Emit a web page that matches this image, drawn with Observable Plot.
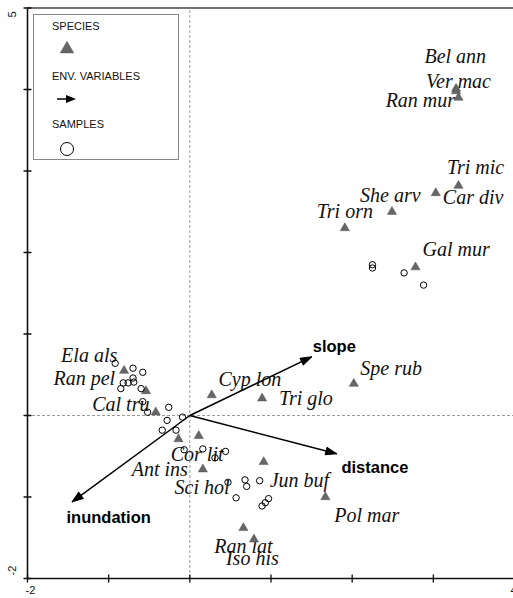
<!DOCTYPE html>
<html>
<head>
<meta charset="utf-8">
<script src="https://cdn.jsdelivr.net/npm/d3@7"></script>
<script src="https://cdn.jsdelivr.net/npm/@observablehq/plot@0.6"></script>
<style>
  html, body { margin: 0; padding: 0; background: #fff; overflow: hidden; }
  #chart svg { display: block; }
</style>
</head>
<body>
<div id="chart"></div>
<script>
// ---- Data ----
const species = ["Bel ann","Ver mac","Ran mur","Tri mic","Car div","She arv","Tri orn","Gal mur",
  "Spe rub","Tri glo","Cyp lon","Ela als","Ran pel","Cal tru","Ant ins","Cor lit","Sci hol",
  "Jun buf","Pol mar","Ran lat","Iso his"];
const speciesX = [3.28, 3.28, 3.31, 3.31, 3.03, 2.49, 1.91, 2.78, 2.02, 0.89, 0.27, -0.81, -0.54, -0.42, -0.14, 0.11, 0.16, 0.91, 1.67, 0.66, 0.79];
const speciesY = [4.01, 3.98, 3.90, 2.82, 2.73, 2.50, 2.30, 1.82, 0.39, 0.21, 0.25, 0.55, 0.30, 0.04, -0.29, -0.25, -0.66, -0.57, -1.00, -1.38, -1.52];
const speciesLabelX = [3.27, 3.31, 2.84, 3.52, 3.49, 2.47, 1.91, 3.28, 2.48, 1.43, 0.74, -1.24, -1.30, -0.85, -0.37, 0.09, 0.15, 1.35, 2.18, 0.66, 0.77];
const speciesLabelY = [4.40, 4.10, 3.86, 3.04, 2.67, 2.70, 2.50, 2.03, 0.57, 0.21, 0.44, 0.74, 0.45, 0.13, -0.66, -0.48, -0.88, -0.80, -1.23, -1.61, -1.75];

const sampleX = [-0.92, -0.70, -0.58, -0.70, -0.82, -0.76, -0.69, -0.85, -0.60, -0.58, -0.52, -0.26, -0.28, -0.09, -0.34, -0.17,
  -0.07, 0.16, 0.31, 0.44, 0.47, 0.68, 0.70, 0.86, 0.57, 0.97, 0.93, 0.89,
  2.25, 2.25, 2.64, 2.88];
const sampleY = [0.64, 0.58, 0.53, 0.46, 0.40, 0.40, 0.41, 0.33, 0.33, 0.17, 0.04, 0.10, -0.06, -0.02, -0.18, -0.18,
  -0.42, -0.41, -0.52, -0.44, -0.82, -0.79, -0.87, -0.80, -1.01, -1.02, -1.07, -1.11,
  1.85, 1.81, 1.75, 1.60];

const envNames = ["slope", "distance", "inundation"];
const envX = [1.50, 1.81, -1.45];
const envY = [0.72, -0.47, -1.06];
const envLabelX = [1.78, 2.28, -1.00];
const envLabelY = [0.85, -0.64, -1.26];

const xTicks = [-2, -1, 0, 1, 2, 3, 4];
const yTicks = [-2, -1, 0, 1, 2, 3, 4, 5];
const xDomain = [-2, 4];
const yDomain = [-2, 5];

const legendLabels = ["SPECIES", "ENV. VARIABLES", "SAMPLES"];

// ---- Build tables ----
const speciesData = species.map((name, i) => ({name, x: speciesX[i], y: speciesY[i], lx: speciesLabelX[i], ly: speciesLabelY[i]}));
const sampleData = sampleX.map((x, i) => ({x, y: sampleY[i]}));
const envData = envNames.map((name, i) => ({name, x: envX[i], y: envY[i], lx: envLabelX[i], ly: envLabelY[i]}));

const W = 513, H = 598;
const xRange = [27, 514], yRange = [578, 7.5];
const sx = (xRange[1] - xRange[0]) / (xDomain[1] - xDomain[0]);
const sy = (yRange[0] - yRange[1]) / (yDomain[1] - yDomain[0]);
const angleOf = d => Math.atan2(d.x * sx, d.y * sy) * 180 / Math.PI;

const tickShape = {draw(c, l) { c.moveTo(0, 0); c.lineTo(0, -l); }};
const headShape = {draw(c, l) { c.moveTo(0, -l); c.lineTo(-3.8, 0); c.lineTo(3.8, 0); c.closePath(); }};

const serif = "'Liberation Serif', 'Times New Roman', serif";
const sans = "'Liberation Sans', Arial, sans-serif";

const plot = Plot.plot({
  width: W,
  height: H,
  margin: 0,
  x: {domain: xDomain, range: xRange, axis: null},
  y: {domain: yDomain, range: yRange, axis: null},
  style: {background: "#fff", fontFamily: sans},
  marks: [
    // zero lines
    Plot.ruleX([0], {y1: yDomain[0], y2: yDomain[1], stroke: "#9a9a9a", strokeWidth: 1, strokeDasharray: "3,2"}),
    Plot.ruleY([0], {x1: xDomain[0], x2: xDomain[1], stroke: "#9a9a9a", strokeWidth: 1, strokeDasharray: "3,2"}),
    // frame lines
    Plot.ruleX([xDomain[0]], {y1: yDomain[0], y2: yDomain[1], stroke: "#111", strokeWidth: 1.6}),
    Plot.ruleX([xDomain[1]], {y1: yDomain[0], y2: yDomain[1], stroke: "#111", strokeWidth: 1.6}),
    Plot.ruleY([yDomain[0]], {x1: xDomain[0], x2: xDomain[1], stroke: "#111", strokeWidth: 1.6}),
    Plot.ruleY([yDomain[1]], {x1: xDomain[0], x2: xDomain[1], stroke: "#444", strokeWidth: 1.6}),
    // ticks
    Plot.vector(xTicks, {x: d => d, y: yDomain[0], length: 7, rotate: 0, anchor: "middle", shape: tickShape, stroke: "#111", strokeWidth: 1.3}),
    Plot.vector(yTicks, {x: xDomain[0], y: d => d, length: 7, rotate: 90, anchor: "middle", shape: tickShape, stroke: "#111", strokeWidth: 1.3}),
    // tick labels
    Plot.text([xDomain[0]], {x: d => d, y: yDomain[0], text: d => String(d), dx: 3, dy: 12, fontSize: 11, fill: "#111"}),
    Plot.text([xDomain[1]], {x: d => d, y: yDomain[0], text: d => String(d), dx: -1, dy: 12, fontSize: 11, fill: "#111"}),
    Plot.text([yDomain[1]], {x: xDomain[0], y: d => d, text: d => String(d), dx: -15, dy: 6.5, rotate: -90, fontSize: 11, fill: "#111"}),
    Plot.text([yDomain[0]], {x: xDomain[0], y: d => d, text: d => String(d), dx: -15, dy: -8, rotate: -90, fontSize: 11, fill: "#111"}),
    // environmental arrows
    Plot.link(envData, {x1: 0, y1: 0, x2: "x", y2: "y", stroke: "#000", strokeWidth: 1.5}),
    Plot.vector(envData, {x: "x", y: "y", rotate: angleOf, length: 11, anchor: "end", shape: headShape, fill: "#000", stroke: "#000", strokeWidth: 1}),
    // species labels
    Plot.text(speciesData, {x: "lx", y: "ly", text: "name", fontFamily: serif, fontStyle: "italic", fontSize: 20, fill: "#111"}),
    // species triangles
    Plot.dot(speciesData, {x: "x", y: "y", symbol: "triangle", r: 3.4, fill: "#666", stroke: "#555", strokeWidth: 0.5}),
    // samples
    Plot.dot(sampleData, {x: "x", y: "y", r: 3.2, fill: "none", stroke: "#000", strokeWidth: 1}),
    // env labels
    Plot.text(envData, {x: "lx", y: "ly", text: "name", fontFamily: sans, fontWeight: "bold", fontSize: 16.5, fill: "#000"})
  ]
});

document.getElementById("chart").appendChild(plot);

// ---- Legend box (top-left) ----
const svg = d3.select(plot);
const lg = svg.append("g").attr("font-family", sans).attr("font-size", 11).attr("fill", "#111").attr("text-anchor", "start");
lg.append("rect").attr("x", 33.5).attr("y", 14.5).attr("width", 145).attr("height", 145)
  .attr("fill", "#fff").attr("stroke", "#888").attr("stroke-width", 1);
const legendY = [26, 76, 124];
legendLabels.forEach((t, i) => {
  lg.append("text").attr("x", 52).attr("y", legendY[i]).attr("dy", "0.35em").attr("text-anchor", "start").text(t);
});
lg.append("path").attr("d", d3.symbol(d3.symbolTriangle, Math.PI * 5 * 5)()).attr("transform", "translate(67,49)")
  .attr("fill", "#666").attr("stroke", "#555").attr("stroke-width", 0.5);
lg.append("line").attr("x1", 57).attr("y1", 99).attr("x2", 68).attr("y2", 99).attr("stroke", "#000").attr("stroke-width", 1.5);
lg.append("path").attr("d", "M76,99L66,95L66,103Z").attr("fill", "#000");
lg.append("circle").attr("cx", 67).attr("cy", 149).attr("r", 6.5).attr("fill", "none").attr("stroke", "#000").attr("stroke-width", 1);
</script>
</body>
</html>
